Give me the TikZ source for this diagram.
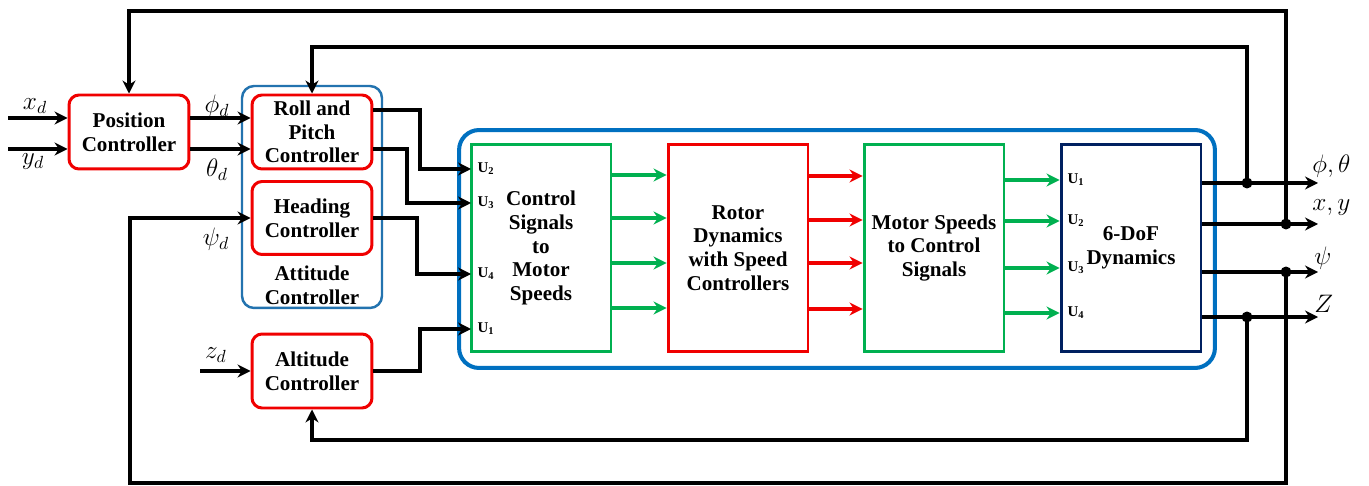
\documentclass[tikz,border=0pt]{standalone}
\usepackage{fontspec}
\setmainfont{Liberation Serif}
\usepackage{tikz}
\usetikzlibrary{arrows.meta}
\definecolor{ctrlred}{HTML}{F00000}
\definecolor{sigreen}{HTML}{00B050}
\definecolor{loopblue}{HTML}{0070C0}
\definecolor{attblue}{HTML}{2373AF}
\definecolor{navy}{HTML}{002060}
\tikzset{
  ctrlbox/.style={draw=ctrlred,fill=white,line width=1.7pt,rounded corners=0.2cm,
                  minimum width=2.4cm,minimum height=1.48cm,inner sep=1pt,
                  align=center,font=\bfseries\fontsize{12}{13.5}\selectfont},
  grpbox/.style={draw=attblue,line width=1.4pt,rounded corners=0.24cm},
  panel/.style={draw=loopblue,line width=2.3pt,rounded corners=0.4cm},
  blockbox/.style={fill=white,line width=1.7pt,minimum width=2.8cm,
                   minimum height=4.14cm,inner sep=1pt,align=center,
                   font=\bfseries\fontsize{12}{13.5}\selectfont},
  sigbox/.style={blockbox,draw=sigreen},
  rotorbox/.style={blockbox,draw=ctrlred},
  dofbox/.style={blockbox,draw=navy},
  txt/.style={align=center,font=\bfseries\fontsize{12}{13.5}\selectfont},
  ulbl/.style={inner sep=0pt,font=\bfseries\fontsize{8.5}{10}\selectfont},
  sig/.style={inner sep=0pt,font=\Large},
  blkarr/.style={-{Stealth[length=2.6mm,width=2.6mm]},line width=1.9pt,draw=black},
  grnarr/.style={-{Stealth[length=2.6mm,width=2.6mm]},line width=1.9pt,draw=sigreen},
  redarr/.style={-{Stealth[length=2.6mm,width=2.6mm]},line width=1.9pt,draw=ctrlred},
  junc/.style={fill=black}
}

\begin{document}
\begin{tikzpicture}[x=0.02cm,y=-0.02cm]
  \useasboundingbox (0,0) rectangle (1369,486);

  % groups
  \node[grpbox,minimum width=2.8cm,minimum height=4.44cm] (att) at (312,197) {};
  \node[txt] (attlbl) at (312,285) {Attitude\\Controller};
  \node[panel,minimum width=15.12cm,minimum height=4.76cm] (loop) at (837,249) {};

  % controllers
  \node[ctrlbox] (pos) at (129,132) {Position\\Controller};
  \node[ctrlbox] (rp) at (312,132) {Roll and\\Pitch\\Controller};
  \node[ctrlbox,minimum height=1.46cm] (head) at (312,218) {Heading\\Controller};
  \node[ctrlbox] (alt) at (312,371) {Altitude\\Controller};

  % inner loop blocks
  \node[sigbox] (cs) at (541,248) {Control\\Signals\\to\\Motor\\Speeds};
  \node[rotorbox] (rotor) at (738,248) {Rotor\\Dynamics\\with Speed\\Controllers};
  \node[sigbox] (ms) at (934,248) {Motor Speeds\\to Control\\Signals};
  \node[dofbox] (dof) at (1131,248) {6-DoF\\Dynamics};

  \node[ulbl] (csu2) at (486,169) {U\textsubscript{2}};
  \node[ulbl] (csu3) at (486,203) {U\textsubscript{3}};
  \node[ulbl] (csu4) at (486,274) {U\textsubscript{4}};
  \node[ulbl] (csu1) at (486,329) {U\textsubscript{1}};
  \node[ulbl] (dofu1) at (1076,180) {U\textsubscript{1}};
  \node[ulbl] (dofu2) at (1076,221) {U\textsubscript{2}};
  \node[ulbl] (dofu3) at (1076,268) {U\textsubscript{3}};
  \node[ulbl] (dofu4) at (1076,313) {U\textsubscript{4}};

  % signal labels
  \node[sig] (xd) at (35,106) {$x_d$};
  \node[sig] (yd) at (33,162) {$y_d$};
  \node[sig] (phid) at (217,106) {$\phi_d$};
  \node[sig] (thetad) at (217,170) {$\theta_d$};
  \node[sig] (psid) at (216,239) {$\psi_d$};
  \node[sig] (zd) at (216,355) {$z_d$};
  \node[sig,anchor=west] (phth) at (1312,166) {$\phi,\theta$};
  \node[sig,anchor=west] (xy) at (1312,208) {$x,y$};
  \node[sig,anchor=west] (psi) at (1314,258) {$\psi$};
  \node[sig,anchor=west] (zz) at (1314,304) {$Z$};

  \coordinate (xin) at (8,118);
  \coordinate (yin) at (8,149);
  \coordinate (zin) at (200,371);
  \coordinate (u2in) at (471,169);
  \coordinate (u3in) at (471,203);
  \coordinate (u4in) at (471,274);
  \coordinate (u1in) at (471,329);
  \coordinate (jpt) at (1247,183);
  \coordinate (jxy) at (1286,224);
  \coordinate (jpsi) at (1286,272);
  \coordinate (jz) at (1247,317);
  \coordinate (opt) at (1318,183);
  \coordinate (oxy) at (1318,224);
  \coordinate (opsi) at (1318,272);
  \coordinate (oz) at (1318,317);

  % references into controllers
  \draw[blkarr] (xin) -- (pos.west |- xin);
  \draw[blkarr] (yin) -- (pos.west |- yin);
  \draw[blkarr] (pos.east |- xin) -- (rp.west |- xin);
  \draw[blkarr] (pos.east |- yin) -- (rp.west |- yin);
  \draw[blkarr] (zin) -- (alt.west);

  % controller outputs
  \draw[blkarr] ([yshift=4.4mm]rp.east) -| (420,169) -- (u2in);
  \draw[blkarr] ([yshift=-3.4mm]rp.east) -| (407,203) -- (u3in);
  \draw[blkarr] (head.east) -| (417,274) -- (u4in);
  \draw[blkarr] (alt.east) -| (420,329) -- (u1in);

  % inner signals
  \foreach \yy in {175,218,263,308}
    \draw[grnarr] (cs.east |- 0,\yy) -- (rotor.west |- 0,\yy);
  \foreach \yy in {176,220,263,309}
    \draw[redarr] (rotor.east |- 0,\yy) -- (ms.west |- 0,\yy);
  \foreach \yy in {180,221,268,313}
    \draw[grnarr] (ms.east |- 0,\yy) -- (dof.west |- 0,\yy);

  % outputs
  \draw[blkarr] (dof.east |- opt) -- (opt);
  \draw[blkarr] (dof.east |- oxy) -- (oxy);
  \draw[blkarr] (dof.east |- opsi) -- (opsi);
  \draw[blkarr] (dof.east |- oz) -- (oz);

  % feedback
  \draw[blkarr] (jxy) -- (1286,11) -| (pos.north);
  \draw[blkarr] (jpt) -- (1247,47) -| (rp.north);
  \draw[blkarr] (jz) -- (1247,440) -| (alt.south);
  \draw[blkarr] (jpsi) -- (1286,483) -| (130,218) -- (head.west);

  \foreach \j in {jpt,jxy,jpsi,jz}
    \fill[junc] (\j) circle (0.11cm);
\end{tikzpicture}
\end{document}
